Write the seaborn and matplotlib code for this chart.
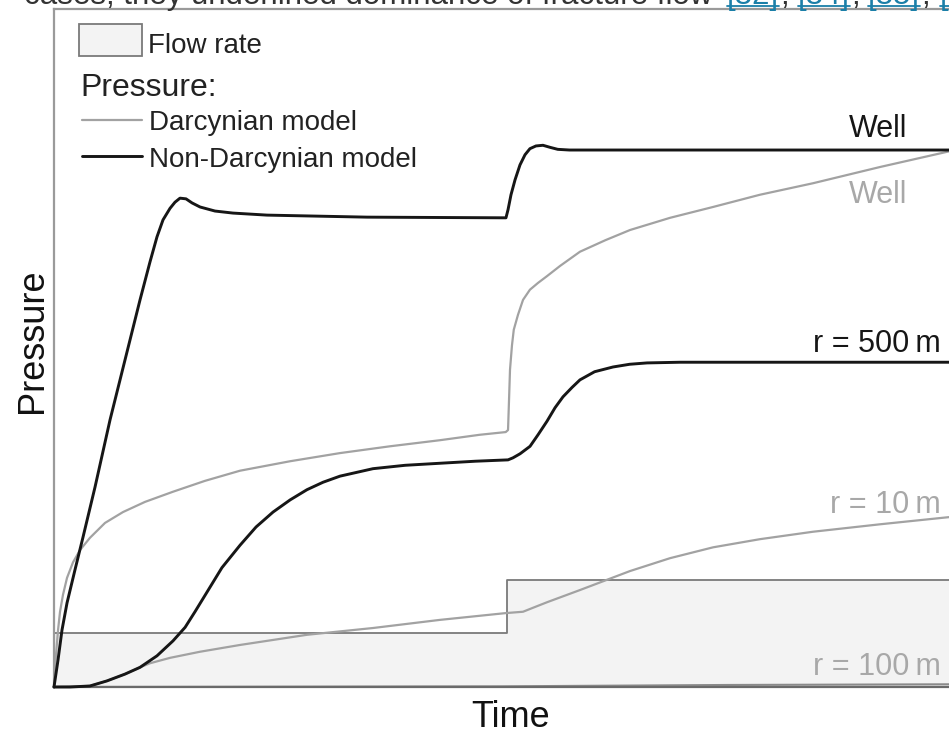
import numpy as np
import pandas as pd
import matplotlib
matplotlib.use("Agg")
import matplotlib.pyplot as plt
from matplotlib.lines import Line2D
from matplotlib.patches import Rectangle
import seaborn as sns

# ---------------- data (time and pressure in arbitrary units, 0-100) ----------------
flow_t = [0, 50.4, 100]
flow_q = [8.0, 15.8, 15.8]

well_nd_t = [0, 0.45, 0.89, 1.45, 2.34, 3.23, 4.57, 6.24, 7.9, 9.58, 10.69, 11.47, 12.14,
             12.92, 13.47, 14.03, 14.7, 15.37, 16.26, 17.93, 19.93, 23.72, 34.86,
             50.33, 50.56, 50.89, 51.34, 51.89, 52.45, 53.0, 53.67, 54.45, 55.23, 56.1, 57.4, 100]
well_nd_p = [0, 4.0, 8.4, 12.4, 17.3, 22.1, 29.5, 39.4, 48.2, 57.1, 62.7, 66.4, 68.9,
             70.6, 71.5, 72.1, 72.0, 71.4, 70.8, 70.2, 69.9, 69.6, 69.3,
             69.2, 70.4, 72.6, 74.8, 77.0, 78.5, 79.4, 79.8, 79.9, 79.6, 79.3, 79.2, 79.2]

well_d_t = [0, 0.11, 0.22, 0.45, 0.67, 1.0, 1.45, 2.12, 2.9, 4.0, 5.68, 7.68, 10.13, 13.25,
            16.8, 20.71, 26.3, 31.85, 37.4, 42.98, 47.4, 50.3,
            50.56, 50.67, 50.78, 51.0, 51.2, 51.67, 52.23, 53.0, 53.9, 54.9, 56.35, 58.57,
            61.4, 64.14, 68.6, 73.39, 78.6, 84.52, 92.0, 100]
well_d_p = [0, 2.5, 4.7, 8.4, 11.1, 13.6, 16.1, 18.4, 20.2, 22.0, 24.2, 25.8, 27.3, 28.8,
            30.4, 31.9, 33.3, 34.5, 35.5, 36.4, 37.2, 37.6,
            37.9, 42.3, 46.8, 50.4, 52.7, 54.9, 57.1, 58.6, 59.6, 60.6, 62.1, 64.2,
            65.9, 67.4, 69.2, 70.8, 72.6, 74.3, 76.7, 79.1]

r500_nd_t = [0, 1.8, 4.0, 5.9, 7.9, 9.58, 11.47, 13.25, 14.6, 15.7, 17.04, 18.7, 20.71,
             22.5, 24.39, 26.3, 28.17, 29.96, 31.85, 35.52, 39.1, 42.98, 46.9, 50.56,
             51.11, 51.9, 53.01, 53.9, 54.9, 55.8, 56.68, 57.7, 58.57, 60.2, 62.25, 64.1,
             66.04, 69.71, 100]
r500_nd_p = [0, 0, 0.15, 0.9, 1.9, 2.9, 4.6, 6.8, 8.8, 11.1, 14.0, 17.6, 20.9,
             23.6, 25.8, 27.6, 29.1, 30.2, 31.1, 32.2, 32.7, 33.0, 33.3, 33.5,
             33.8, 34.4, 35.5, 37.2, 39.2, 41.2, 42.8, 44.2, 45.3, 46.5, 47.2, 47.6,
             47.8, 47.9, 47.9]

r10_d_t = [0, 4.0, 5.9, 7.9, 9.58, 10.69, 12.92, 16.26, 20.71, 28.17, 35.52, 42.98, 50.3,
           52.23, 53.56, 54.9, 58.57, 64.14, 68.6, 73.39, 78.6, 84.52, 92.0, 100]
r10_d_p = [0, 0.15, 0.9, 1.9, 2.9, 3.5, 4.3, 5.2, 6.2, 7.7, 8.7, 9.9, 10.9,
           11.1, 11.8, 12.5, 14.3, 17.1, 19.0, 20.6, 21.8, 22.9, 24.0, 25.1]

r100_d_t = [0, 50, 75, 100]
r100_d_p = [0, 0.1, 0.3, 0.4]

curve_labels = ["Well", "Well", "r = 500\u2009m", "r = 10\u2009m", "r = 100\u2009m"]
legend_labels = ["Flow rate", "Pressure:", "Darcynian model", "Non-Darcynian model"]
axis_labels = ["Time", "Pressure"]
top_text = "cases, they underlined dominance of fracture flow"
top_links = ["[32]", "[34]", "[35]", "[36]"]

# ---------------- style ----------------
sns.set_theme(style="white")
plt.rcParams["font.family"] = ["Liberation Sans", "DejaVu Sans"]

BLACK = "#161616"
GRAY = "#a2a2a2"
GRAY_TXT = "#a8a8a8"
W, H = 949, 729

fig = plt.figure(figsize=(W / 100, H / 100), dpi=100)
fig.patch.set_facecolor("white")
ax = fig.add_axes([54 / W, 42 / H, 898 / W, 678 / H])
ax.set_xlim(0, 100)
ax.set_ylim(0, 100)
ax.set_xticks([])
ax.set_yticks([])
ax.set_xlabel("")
ax.set_ylabel("")
for s in ["left", "bottom", "top", "right"]:
    ax.spines[s].set_color("#9a9a9a")
    ax.spines[s].set_linewidth(1.6)
ax.spines["bottom"].set_color("#6a6a6a")

# flow rate
ax.fill_between(flow_t, 0, flow_q, step="post", color="#f3f3f3", zorder=0.5, lw=0)
sns.lineplot(x=flow_t, y=flow_q, drawstyle="steps-post", color="#7a7a7a", lw=1.3,
             ax=ax, estimator=None, sort=False, legend=False, zorder=1)

def curve(t, p, color, lw):
    sns.lineplot(x=t, y=p, color=color, lw=lw, ax=ax, estimator=None, sort=False,
                 legend=False, zorder=3 if color == BLACK else 2)

curve(r100_d_t, r100_d_p, "#8a8a8a", 1.5)
curve(r10_d_t, r10_d_p, GRAY, 1.6)
curve(well_d_t, well_d_p, GRAY, 1.6)
curve(r500_nd_t, r500_nd_p, BLACK, 2.1)
curve(well_nd_t, well_nd_p, BLACK, 2.1)
for l in ax.lines:
    l.set_clip_on(False)
    l.set_solid_joinstyle("round")
    l.set_solid_capstyle("round")

# curve labels
lab_kw = dict(ha="right", va="baseline", fontsize=22)
ax.text(95.0, 81.1, curve_labels[0], color=BLACK, **lab_kw)
ax.text(95.0, 71.4, curve_labels[1], color=GRAY_TXT, **lab_kw)
ax.text(98.8, 49.4, curve_labels[2], color=BLACK, **lab_kw)
ax.text(98.8, 25.7, curve_labels[3], color=GRAY_TXT, **lab_kw)
ax.text(98.8, 1.8, curve_labels[4], color=GRAY_TXT, **lab_kw)

# axis labels
fig.text(511 / W, 2 / H, axis_labels[0], ha="center", va="baseline", fontsize=26, color="#111111")
fig.text(42 / W, 1 - 341 / H, axis_labels[1], rotation=90, rotation_mode="anchor",
         ha="center", va="baseline", fontsize=26, color="#111111")

# manual legend
tf = fig.transFigure
fig.add_artist(Rectangle((79 / W, 1 - 56 / H), 63 / W, 32 / H, transform=tf,
                         facecolor="#f3f3f3", edgecolor="#7a7a7a", lw=1.3))
fig.add_artist(Line2D([82 / W, 142 / W], [1 - 120 / H] * 2, transform=tf, color=GRAY, lw=1.6))
fig.add_artist(Line2D([82 / W, 142 / W], [1 - 156 / H] * 2, transform=tf, color=BLACK, lw=2.1))
fig.text(148 / W, 1 - 53 / H, legend_labels[0], fontsize=20, va="baseline", color="#222222")
fig.text(80 / W, 1 - 96 / H, legend_labels[1], fontsize=23, va="baseline", color="#222222")
fig.text(149 / W, 1 - 130 / H, legend_labels[2], fontsize=20, va="baseline", color="#222222")
fig.text(149 / W, 1 - 167 / H, legend_labels[3], fontsize=20, va="baseline", color="#222222")

# clipped page text at the very top
LINK = "#1b7fa8"
base_y = 1 - 4 / H
fig.text(713 / W, base_y, top_text, ha="right", va="baseline", fontsize=22.5, color="#333333")
renderer = fig.canvas.get_renderer()
for px, s in zip([727, 798, 868, 940], top_links):
    t = fig.text(px / W, base_y, s, ha="left", va="baseline", fontsize=22.5, color=LINK)
    bb = t.get_window_extent(renderer)
    fig.add_artist(Line2D([px / W, bb.x1 / W], [1 - 6 / H] * 2, transform=tf, color=LINK, lw=1.3))
    fig.text(bb.x1 / W + 1 / W, base_y, ",", ha="left", va="baseline", fontsize=22.5, color="#333333")

fig.savefig("out.png", dpi=100)
